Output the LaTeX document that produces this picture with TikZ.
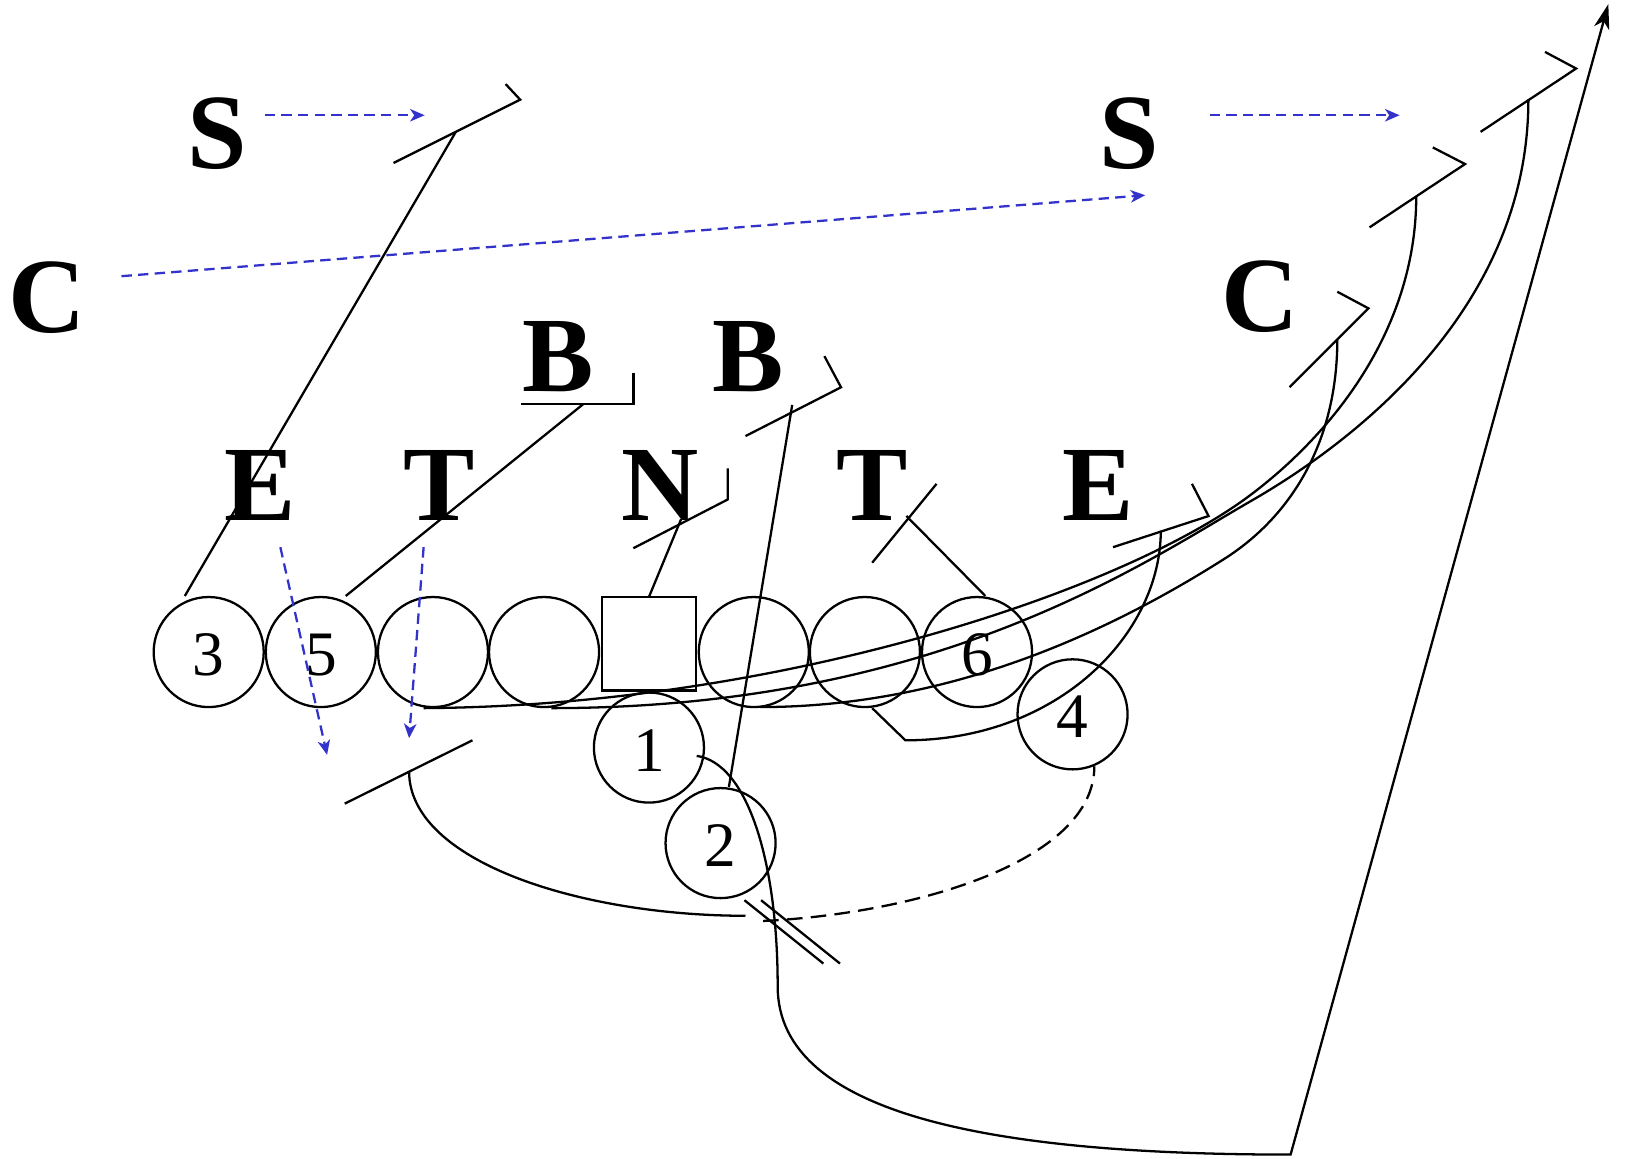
\documentclass[tikz,border=0pt]{standalone}
\usepackage{fontspec}
\setmainfont{Liberation Serif}
\usetikzlibrary{arrows.meta}
\definecolor{readblue}{RGB}{51,51,204}
\begin{document}
\begin{tikzpicture}[x=1pt,y=-1pt,
  line width=2.2pt, line join=miter,
  player/.style={circle, draw, line width=2.2pt, minimum size=106pt, inner sep=0pt},
  centre/.style={rectangle, draw, line width=2.2pt, minimum width=90pt, minimum height=90pt, inner sep=0pt},
  num/.style={font=\fontsize{61}{61}\selectfont, inner sep=0pt},
  defender/.style={font=\fontsize{103}{103}\selectfont\bfseries, anchor=base, inner sep=0pt},
  route/.style={draw=black, line width=2.2pt},
  dashroute/.style={route, dash pattern=on 15pt off 8pt},
  readarrow/.style={draw=readblue, line width=2.2pt, dash pattern=on 10pt off 6pt,
    -{Stealth[length=14pt,width=12pt,inset=4pt]}},
  mainarrow/.style={route, -{Stealth[length=24pt,width=15pt,inset=7pt]}}
]
\useasboundingbox (0,0) rectangle (1567,1116);

% defenders
\node[defender] (S1) at (209,162) {S};
\node[defender] (S2) at (1088,162) {S};
\node[defender] (C1) at (45,320) {C};
\node[defender] (C2) at (1214,319) {C};
\node[defender] (B1) at (538,377) {B};
\node[defender] (B2) at (721,377) {B};
\node[defender] (E1) at (251,501) {E};
\node[defender] (T1) at (423,501) {T};
\node[defender] (N1) at (636,501) {N};
\node[defender] (T2) at (840,501) {T};
\node[defender] (E2) at (1058,501) {E};

% offense
\node[player] (p3) at (201,628) {};
\node[player] (p5) at (309,628) {};
\node[player] (o1) at (417,628) {};
\node[player] (o2) at (524,628) {};
\node[centre] (ctr) at (625,620) {};
\node[player] (o3) at (726,628) {};
\node[player] (o4) at (833,628) {};
\node[player] (p6) at (941,628) {};
\node[player] (p4) at (1033,688) {};
\node[player] (p1) at (625,720) {};
\node[player] (p2) at (694,812) {};
\node[num] at ([yshift=-2.5pt]p3.center) {3};
\node[num] at ([yshift=-2.5pt]p5.center) {5};
\node[num] at ([yshift=-2.5pt]p6.center) {6};
\node[num] at ([yshift=-2.5pt]p4.center) {4};
\node[num] at ([yshift=-2.5pt]p1.center) {1};
\node[num] at ([yshift=-2.5pt]p2.center) {2};

% blocking bars (coordinates)
\coordinate (sbA) at (379,157); \coordinate (sbB) at (501,96); \coordinate (sbC) at (487,81);
\coordinate (bbA) at (502,389); \coordinate (bbB) at (610,389); \coordinate (bbC) at (610,359);
\coordinate (nbA) at (610,528); \coordinate (nbB) at (701,481); \coordinate (nbC) at (701,451);
\coordinate (rbA) at (718,420); \coordinate (rbB) at (810,373); \coordinate (rbC) at (794,343);
\coordinate (tbA) at (840,542); \coordinate (tbB) at (902,466);
\coordinate (ebA) at (1072,527); \coordinate (ebB) at (1164,497); \coordinate (ebC) at (1148,466);
\coordinate (cbA) at (1242,373); \coordinate (cbB) at (1318,297); \coordinate (cbC) at (1288,281);
\coordinate (b2A) at (1319,219); \coordinate (b2B) at (1411,158); \coordinate (b2C) at (1380,142);
\coordinate (b1A) at (1426,127); \coordinate (b1B) at (1518,66); \coordinate (b1C) at (1488,50);
\coordinate (lbA) at (332,774); \coordinate (lbB) at (455,713);

\draw[route] (sbA) -- (sbB) -- (sbC);
\draw[route] (bbA) -- (bbB) -- (bbC);
\draw[route] (nbA) -- (nbB) -- (nbC);
\draw[route] (rbA) -- (rbB) -- (rbC);
\draw[route] (tbA) -- (tbB);
\draw[route] (ebA) -- (ebB) -- (ebC);
\draw[route] (cbA) -- (cbB) -- (cbC);
\draw[route] (b2A) -- (b2B) -- (b2C);
\draw[route] (b1A) -- (b1B) -- (b1C);
\draw[route] (lbA) -- (lbB);

% straight routes
\coordinate (r3s) at (178,574); \coordinate (r3e) at (439,127);
\coordinate (r5s) at (333,574); \coordinate (r5e) at (562,389);
\coordinate (rns) at (625,575); \coordinate (rne) at (656,500);
\coordinate (r2s) at (702,758); \coordinate (r2e) at (763,390);
\coordinate (r6s) at (949,574); \coordinate (r6e) at (873,497);
\draw[route] (r3s) -- (r3e);
\draw[route] (r5s) -- (r5e);
\draw[route] (rns) -- (rne);
\draw[route] (r2s) -- (r2e);
\draw[route] (r6s) -- (r6e);

% curved routes
\coordinate (caS) at (408,682); \coordinate (caM) at (1204,477); \coordinate (caE) at (1364,189);
\draw[route] (caS) .. controls (750,680) and (1080,570) .. (caM)
  .. controls (1280,420) and (1364,320) .. (caE);
\coordinate (cbS) at (531,682); \coordinate (cbM) at (1204,483); \coordinate (cbE) at (1472,96);
\draw[route] (cbS) .. controls (900,682) and (1100,543) .. (cbM)
  .. controls (1300,428) and (1472,300) .. (cbE);
\coordinate (ccS) at (732,681); \coordinate (ccM) at (1178,539); \coordinate (ccE) at (1288,327);
\draw[route] (ccS) .. controls (900,681) and (1050,620) .. (ccM)
  .. controls (1248,495) and (1288,420) .. (ccE);
\coordinate (ceS) at (840,682); \coordinate (ceK) at (872,713); \coordinate (ceE) at (1118,511);
\draw[route] (ceS) -- (ceK) .. controls (1020,713) and (1118,610) .. (ceE);

% back-side route with marker
\coordinate (lcS) at (394,743); \coordinate (lcE) at (718,882);
\draw[route] (lcS) .. controls (394,830) and (560,882) .. (lcE);
\coordinate (dcS) at (735,887); \coordinate (dcE) at (1054,738);
\draw[dashroute] (dcS) .. controls (880,880) and (1054,830) .. (dcE);
\coordinate (mk1a) at (717,867); \coordinate (mk1b) at (793,928);
\coordinate (mk2a) at (733,867); \coordinate (mk2b) at (809,928);
\draw[route] (mk1a) -- (mk1b);
\draw[route] (mk2a) -- (mk2b);

% deep route with arrow
\coordinate (d1S) at (671,728); \coordinate (d1M) at (749,950);
\coordinate (d1K) at (1243,1112); \coordinate (d1E) at (1549,4);
\draw[mainarrow] (d1S) .. controls (720,735) and (749,830) .. (d1M)
  .. controls (749,1075) and (960,1112) .. (d1K) -- (d1E);

% defensive reads (blue dashed)
\coordinate (bl1s) at (255,111); \coordinate (bl1e) at (409,111);
\coordinate (bl2s) at (1165,111); \coordinate (bl2e) at (1348,111);
\coordinate (bl3s) at (117,266); \coordinate (bl3e) at (1103,188);
\coordinate (bl4s) at (270,527); \coordinate (bl4e) at (315,727);
\coordinate (bl5s) at (408,527); \coordinate (bl5e) at (394,711);
\draw[readarrow] (bl1s) -- (bl1e);
\draw[readarrow] (bl2s) -- (bl2e);
\draw[readarrow] (bl3s) -- (bl3e);
\draw[readarrow] (bl4s) -- (bl4e);
\draw[readarrow] (bl5s) -- (bl5e);
\end{tikzpicture}
\end{document}
